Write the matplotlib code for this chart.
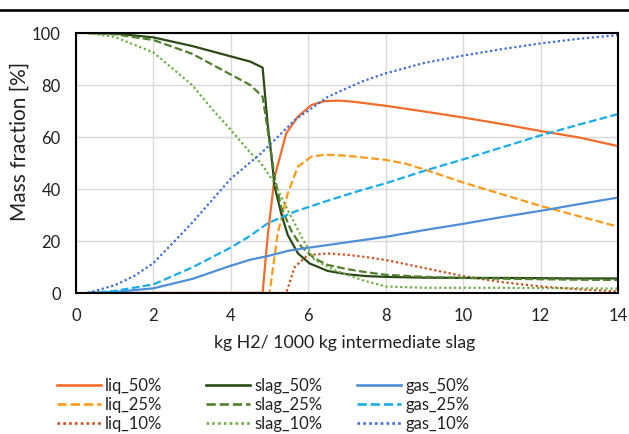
import matplotlib
matplotlib.use("Agg")
import matplotlib.pyplot as plt
from matplotlib.lines import Line2D

plt.rcParams['font.family'] = ['Lato', 'DejaVu Sans']

# ---- data ----
slag50_x = [0.3, 1, 2, 3, 4, 4.5, 4.82, 4.95, 5.04, 5.13, 5.3, 5.47, 5.73, 6.03, 6.5, 7.0, 7.5, 8, 9, 10, 11, 12, 13, 14]
slag50_y = [100, 99.8, 98.3, 95, 91, 89, 86.7, 65, 53.7, 41, 30.6, 22.3, 15.3, 11.4, 8.5, 7.2, 6.5, 6.2, 5.9, 5.8, 5.8, 5.7, 5.6, 5.6]

slag25_x = [0.3, 1, 2, 3, 4, 4.5, 4.82, 5.0, 5.13, 5.3, 5.56, 5.82, 6.16, 6.5, 7.0, 7.4, 8, 9, 10, 11, 12, 13, 14]
slag25_y = [100, 99.5, 97.3, 92, 84, 80, 75.5, 58, 44.7, 33, 24, 17.8, 13.3, 10.8, 9.2, 8.2, 7, 6.2, 5.8, 5.5, 5.3, 5.1, 5.0]

slag10_x = [0.3, 1, 2, 3, 3.5, 4, 4.5, 4.78, 5.13, 5.47, 5.82, 6.16, 6.68, 7.38, 8, 9, 10, 11, 12, 13, 14]
slag10_y = [100, 98.5, 92.5, 80, 71, 62.7, 54, 49.9, 42.2, 31.9, 21.7, 12.7, 8.8, 5, 2.5, 2, 2, 2, 1.9, 1.8, 1.7]

liq50_x = [0.3, 4.82, 4.95, 5.13, 5.43, 5.73, 6.08, 6.42, 6.8, 7.2, 8, 9, 10, 11, 12, 13, 14]
liq50_y = [0, 0, 21.7, 44.7, 61.4, 67.8, 72.3, 73.8, 74, 73.5, 72, 69.8, 67.5, 65, 62.3, 59.8, 56.5]

liq25_x = [0.3, 5.0, 5.21, 5.47, 5.73, 6.08, 6.42, 7.0, 7.5, 8, 8.5, 9, 10, 11, 12, 13, 14]
liq25_y = [0, 0, 23, 38.3, 48.6, 52.4, 53.2, 52.8, 52, 51.2, 49.8, 47.5, 42.5, 38, 33.5, 29.5, 25.5]

liq10_x = [0.3, 5.43, 5.65, 5.99, 6.5, 7, 7.5, 8, 9, 10, 11, 12, 13, 14]
liq10_y = [0, 0, 10, 14.6, 15.2, 14.7, 13.8, 12.7, 9.6, 6.5, 4.2, 2.5, 1.4, 0.6]

gas50_x = [0.3, 1, 2, 3, 4, 4.5, 4.95, 5.5, 6, 7, 8, 9, 10, 11, 12, 13, 14]
gas50_y = [0, 0.4, 1.8, 5.4, 10.5, 12.8, 14.2, 16.3, 17.4, 19.5, 21.6, 24.2, 26.6, 29.2, 31.6, 34.2, 36.7]

gas25_x = [0.3, 1, 2, 3, 4, 4.5, 4.95, 5.65, 6.5, 7.38, 8, 9, 10, 11, 12, 13, 14]
gas25_y = [0, 0.8, 3.3, 9.8, 17.5, 22, 26.8, 31.3, 35.5, 39.6, 42.2, 47, 51.4, 56, 60.6, 64.8, 68.8]

gas10_x = [0.3, 1, 1.5, 2, 3, 4, 4.78, 5.65, 6.51, 7.38, 8, 9, 10, 11, 12, 13, 14]
gas10_y = [0, 3, 6.5, 11.5, 27, 44, 53.7, 66.5, 75.5, 81.3, 84.5, 88.5, 91.3, 93.8, 96, 97.8, 99.2]

x_ticks = [0, 2, 4, 6, 8, 10, 12, 14]
y_ticks = [0, 20, 40, 60, 80, 100]

# ---- figure ----
W, H = 629, 434
fig = plt.figure(figsize=(W/100, H/100), dpi=100)
L, R, T, B = 76, 618, 33, 293
ax = fig.add_axes([L/W, 1-B/H, (R-L)/W, (B-T)/H])

lw = 1.6
DASH = (0, (3.5, 1.5))
DOT = (0, (1, 1.2))
series = [
    ("liq_50%", liq50_x, liq50_y, "#F26D2B", "-"),
    ("liq_25%", liq25_x, liq25_y, "#FF9A1A", DASH),
    ("liq_10%", liq10_x, liq10_y, "#C9501C", DOT),
    ("slag_50%", slag50_x, slag50_y, "#2B4A17", "-"),
    ("slag_25%", slag25_x, slag25_y, "#4F7F2C", DASH),
    ("slag_10%", slag10_x, slag10_y, "#6DAE45", DOT),
    ("gas_50%", gas50_x, gas50_y, "#4D8FD8", "-"),
    ("gas_25%", gas25_x, gas25_y, "#1AADEB", DASH),
    ("gas_10%", gas10_x, gas10_y, "#3D6CD6", DOT),
]
for name, xs, ys, c, ls in series:
    ax.plot(xs, ys, color=c, linestyle=ls, linewidth=lw, label=name)

ax.set_xlim(0, 14)
ax.set_ylim(0, 100)
ax.set_xticks(x_ticks)
ax.set_yticks(y_ticks)
ax.grid(True, color="#D9D9D9", linewidth=1.0)
ax.set_axisbelow(True)
for s in ax.spines.values():
    s.set_color("black")
    s.set_linewidth(1.5)
ax.tick_params(length=0, labelsize=12, colors="#222222")
ax.tick_params(axis="x", pad=11)
ax.tick_params(axis="y", pad=11)

fig.text(345/W, 1-343/H, "kg H2/ 1000 kg intermediate slag", ha="center", va="center",
         fontsize=12.8, color="#222222")
fig.text(20/W, 1-141/H, "Mass fraction [%]", ha="center", va="center", rotation=90,
         fontsize=15, color="#222222")

# top rule
fig.add_artist(Line2D([0, 1], [1-10/H, 1-10/H], color="black", linewidth=1.9,
                      transform=fig.transFigure))

# legend (3 columns x 3 rows), drawn in figure pixels
col_x = [57, 206, 357]
row_y = [385, 404, 423]
line_len = 44
for i, (name, xs, ys, c, ls) in enumerate(series):
    cx = col_x[i // 3]
    ry = row_y[i % 3]
    fig.add_artist(Line2D([cx/W, (cx+line_len)/W], [1-ry/H, 1-ry/H], color=c,
                          linestyle=ls, linewidth=lw + 0.3, transform=fig.transFigure))
    fig.text((cx+line_len+4)/W, 1-(ry+6)/H, name, ha="left", va="baseline",
             fontsize=12, color="#222222")

fig.savefig("out.png", dpi=100)
